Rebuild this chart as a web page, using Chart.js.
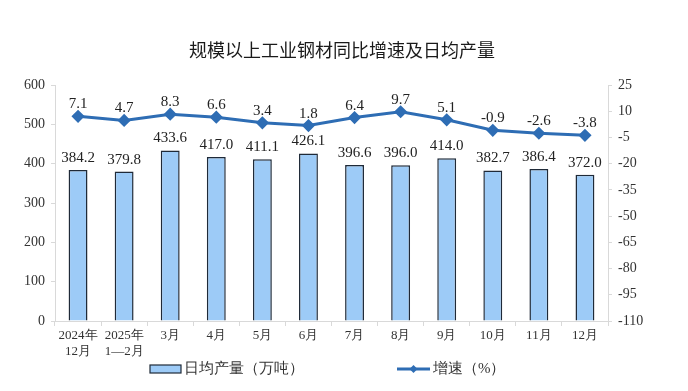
<!DOCTYPE html>
<html>
<head>
<meta charset="utf-8">
<script src="https://cdn.jsdelivr.net/npm/chart.js@4/dist/chart.umd.min.js"></script>
<style>
  html, body { margin: 0; padding: 0; background: #fff; }
  #wrap { width: 688px; height: 391px; position: relative; }
</style>
</head>
<body>
<div id="wrap"><canvas id="steelChart" width="688" height="391"></canvas></div>
<script>
// Chart data
const months = [['2024年', '12月'], ['2025年', '1—2月'], '3月', '4月', '5月', '6月', '7月', '8月', '9月', '10月', '11月', '12月'];
const dailyOutput = [384.2, 379.8, 433.6, 417.0, 411.1, 426.1, 396.6, 396.0, 414.0, 382.7, 386.4, 372.0];
const growthRate = [7.1, 4.7, 8.3, 6.6, 3.4, 1.8, 6.4, 9.7, 5.1, -0.9, -2.6, -3.8];
const leftTicks = [0, 100, 200, 300, 400, 500, 600];
const rightTicks = [25, 10, -5, -20, -35, -50, -65, -80, -95, -110];

const serif = '"Liberation Serif", "Times New Roman", serif';
const cjk = '"Noto Sans CJK SC", sans-serif';
const barFill = '#9DCBF7';
const barEdge = '#1F2A38';
const lineBlue = '#2E6DB4';

// draw value labels, title and legend by hand
const extras = {
    id: 'extras',
    afterDatasetsDraw(chart) {
        const ctx = chart.ctx;
        ctx.save();
        ctx.fillStyle = '#222';
        ctx.textAlign = 'center';
        ctx.textBaseline = 'alphabetic';
        ctx.font = '15px ' + serif;

        // dataset 0 = line, dataset 1 = bars
        chart.getDatasetMeta(1).data.forEach((bar, i) => {
            ctx.fillText(dailyOutput[i].toFixed(1), bar.x, bar.y - 8);
        });
        chart.getDatasetMeta(0).data.forEach((pt, i) => {
            ctx.fillText(growthRate[i].toFixed(1), pt.x, pt.y - 8);
        });

        // title
        ctx.font = '18px ' + cjk;
        ctx.fillStyle = '#1a1a1a';
        ctx.textBaseline = 'middle';
        ctx.fillText('规模以上工业钢材同比增速及日均产量', 342, 50);

        // legend
        const ly = 369;
        ctx.fillStyle = barFill;
        ctx.fillRect(150, ly - 4, 31, 8);
        ctx.strokeStyle = barEdge;
        ctx.lineWidth = 1.2;
        ctx.strokeRect(150, ly - 4, 31, 8);

        ctx.strokeStyle = lineBlue;
        ctx.lineWidth = 3;
        ctx.beginPath();
        ctx.moveTo(397, ly);
        ctx.lineTo(430, ly);
        ctx.stroke();
        ctx.fillStyle = lineBlue;
        ctx.beginPath();
        ctx.moveTo(413.5, ly - 4);
        ctx.lineTo(417.5, ly);
        ctx.lineTo(413.5, ly + 4);
        ctx.lineTo(409.5, ly);
        ctx.closePath();
        ctx.fill();

        ctx.fillStyle = '#333';
        ctx.textAlign = 'left';
        ctx.font = '15px ' + serif;
        ctx.fillText('日均产量（万吨）', 184, ly);
        ctx.fillText('增速（%）', 433, ly);
        ctx.restore();
    }
};

const chartEl = document.getElementById('steelChart');

new Chart(chartEl, {
    type: 'bar',
    data: {
        labels: months,
        datasets: [{
            type: 'line',
            label: '增速（%）',
            data: growthRate,
            yAxisID: 'yRight',
            borderColor: lineBlue,
            backgroundColor: lineBlue,
            borderWidth: 3,
            pointStyle: 'rectRot',
            pointRadius: 4.5,
            pointHoverRadius: 4.5,
            tension: 0,
            order: 0
        }, {
            label: '日均产量（万吨）',
            data: dailyOutput,
            yAxisID: 'yLeft',
            backgroundColor: barFill,
            borderColor: barEdge,
            borderWidth: 1.5,
            barPercentage: 0.41,
            categoryPercentage: 1,
            order: 1
        }]
    },
    options: {
        responsive: false,
        animation: false,
        layout: { padding: { top: 85, left: 0, right: 0, bottom: 0 } },
        plugins: {
            legend: { display: false },
            tooltip: { enabled: false }
        },
        scales: {
            x: {
                grid: { display: true, drawOnChartArea: false, color: '#d9d9d9', tickLength: 5 },
                border: { color: '#d9d9d9' },
                ticks: {
                    color: '#333',
                    font: { family: serif, size: 13 },
                    maxRotation: 0,
                    autoSkip: false,
                    padding: 2
                },
                afterFit(scale) { scale.height = 70; }
            },
            yLeft: {
                position: 'left',
                min: 0,
                max: 600,
                afterBuildTicks(scale) { scale.ticks = leftTicks.map(v => ({ value: v })); },
                grid: { drawOnChartArea: false, color: '#d9d9d9', tickLength: 4 },
                border: { color: '#d9d9d9' },
                ticks: { color: '#333', font: { family: serif, size: 14 }, padding: 6 },
                afterFit(scale) { scale.width = 55; }
            },
            yRight: {
                position: 'right',
                min: -110,
                max: 25,
                afterBuildTicks(scale) { scale.ticks = rightTicks.map(v => ({ value: v })); },
                grid: { drawOnChartArea: false, color: '#d9d9d9', tickLength: 4 },
                border: { color: '#d9d9d9' },
                ticks: { color: '#333', font: { family: serif, size: 14 }, padding: 6 },
                afterFit(scale) { scale.width = 80; }
            }
        }
    },
    plugins: [extras]
});
</script>
</body>
</html>
